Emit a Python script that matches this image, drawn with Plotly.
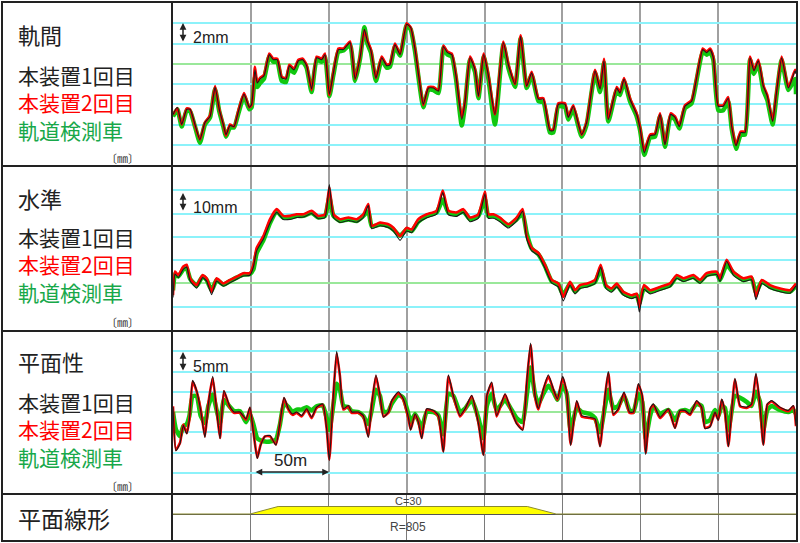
import plotly.graph_objects as go

# ---------------- data (distance in m, values in mm) ----------------
GAUGE_X = [0,2.8,5.6,8.8,11,14.1,17.3,20.5,23.8,27,29.7,32.3,34,36.6,39.2,42,45.6,49,50.5,52.6,
           54.1,55.9,58.4,61.8,64.4,67,69.8,72.6,74.7,77.7,80.5,83.3,85.8,89,92.2,95.5,97.6,100.4,103,106.2,
           109.4,113.7,116.9,120.1,122.9,124.8,127.1,130.3,134,137.2,139.3,142.5,145.8,150,152.6,155.4,158.2,160.7,164,167.2,
           170.4,173.6,176.2,179,181.7,185.4,187.5,190.7,193.9,196.1,199.5,202.4,206.7,212.1,215.3,219.6,223.2,227.1,230.3,234.6,
           237.8,242,244.2,247.4,251.7,253.8,257,262.4,265.6,271,274.2,276.7,279.5,284.9,287,289.6,293.4,297.7,299.8,302.6,
           306.3,309.5,312.7,315.9,319.5,322.3,325.1,328.7,333,336.2,340.1,342.6,344.8,346.9,350.1,353.3,356.5,358.7,361.5,364.5,
           367.3,370.5,373,375.8,379,381.6,385,387.6,390.8,395.1,399.4,400]
GAUGE_RUN1 = [-5.0,-4.3,-6.0,-4.5,-4.5,-6.0,-7.5,-5.8,-5.2,-2.3,-4.5,-6.0,-7.0,-6.1,-6.2,-4.7,-3.0,-4.3,-4.0,-0.6,
              -1.9,-1.5,-1.2,0.9,0.4,0.4,-1.4,-1.5,-0.2,-0.6,0.3,0.4,-0.2,-2.5,0.6,0.4,0.9,-3.0,-0.9,1.4,
              1.4,2.1,-1.5,0.6,3.4,2.2,1.3,-1.4,0.6,-0.2,-0.1,1.9,0.9,3.9,3.6,1.4,-1.7,-4.0,-2.4,-2.4,
              -2.7,1.7,1.1,0.9,-1.2,-5.5,-3.8,0.6,-0.6,-3.2,0.9,-1.1,-5.0,2.1,-0.1,-2.0,2.7,-2.2,-0.9,-3.5,
              -3.5,-6.6,-6.6,-4.0,-4.0,-5.3,-4.2,-7.0,-5.8,-0.7,-2.5,0.3,-5.5,-2.4,-2.9,-1.5,-3.5,-5.0,-6.3,-8.8,
              -7.1,-7.0,-5.0,-8.0,-5.0,-5.3,-6.2,-4.2,-3.7,-1.4,1.4,1.1,1.4,0.6,-4.2,-4.2,-3.4,-6.2,-8.1,-6.8,
              -6.8,0.6,-0.7,0.3,-2.2,-3.2,-5.7,-2.7,0.6,-2.4,-0.7,-1.0]
GAUGE_RUN2 = [-5.0,-4.4,-6.0,-4.4,-4.5,-6.1,-7.5,-5.8,-5.1,-2.2,-4.5,-6.0,-7.1,-6.0,-6.2,-4.6,-2.9,-4.3,-4.1,-0.3,
              -1.8,-1.4,-1.1,1.0,0.5,0.5,-1.3,-1.4,-0.1,-0.5,0.4,0.5,-0.1,-2.6,0.7,0.5,1.0,-3.1,-0.8,1.5,
              1.5,2.2,-1.5,0.7,3.3,2.3,1.4,-1.4,0.7,-0.1,0.0,2.0,1.0,4.0,3.6,1.5,-1.6,-4.1,-2.3,-2.3,
              -2.6,1.8,1.2,1.0,-1.1,-5.3,-3.7,0.7,-0.5,-3.2,1.0,-1.0,-5.0,2.2,0.0,-2.0,2.8,-2.2,-0.8,-3.4,
              -3.4,-6.5,-6.5,-3.9,-3.9,-5.2,-4.1,-7.0,-5.7,-0.6,-2.4,0.5,-5.4,-2.3,-2.8,-1.4,-3.4,-4.9,-6.2,-8.6,
              -7.0,-6.9,-4.9,-7.9,-4.9,-5.2,-6.1,-4.1,-3.6,-1.3,1.5,1.2,1.5,0.7,-4.1,-4.1,-3.3,-6.1,-8.0,-6.7,
              -6.7,0.7,-0.6,0.4,-2.1,-3.1,-5.6,-2.6,0.7,-2.3,-0.6,-0.9]
GAUGE_CAR = [-5.2,-4.5,-6.2,-4.6,-4.7,-6.2,-7.8,-6.0,-5.3,-2.5,-4.7,-6.2,-7.2,-6.3,-6.3,-4.9,-3.2,-4.5,-4.3,-1.3,
             -2.3,-1.9,-1.5,0.7,0.2,0.2,-1.7,-1.8,-0.5,-0.9,0.1,0.2,-0.4,-2.8,0.4,0.2,0.7,-3.2,-1.1,1.2,
             1.3,1.9,-1.7,0.5,3.6,2.0,1.1,-1.7,0.4,-0.4,-0.3,1.7,0.8,3.8,3.4,1.2,-2.0,-4.3,-2.6,-2.6,
             -2.9,1.6,0.9,0.7,-1.5,-6.1,-4.1,0.4,-0.8,-3.4,0.7,-1.4,-6.0,1.9,-0.4,-2.3,2.5,-2.4,-1.1,-3.7,
             -3.8,-6.8,-6.8,-4.2,-4.3,-5.5,-4.5,-7.2,-6.0,-0.9,-2.8,0.1,-5.7,-2.6,-3.1,-1.7,-3.7,-5.2,-6.5,-9.0,
             -7.3,-7.2,-5.2,-8.2,-5.2,-5.5,-6.4,-4.4,-3.9,-1.6,1.2,0.9,1.2,0.4,-4.6,-4.6,-3.7,-6.4,-8.4,-7.0,
             -7.0,0.4,-1.0,0.0,-2.6,-3.6,-6.0,-3.0,0.4,-2.6,-1.5,-3.0]

LEVEL_X = [0,1.3,3.4,6.6,8.8,11,15.2,19,21.6,24.8,28,32.3,36.6,40.9,45.2,49.4,51.6,53.7,58,62.3,
           66.6,70.8,75.1,79.4,83.7,89,93.3,97.6,100.4,103,107.2,112.6,118,122.2,125.4,127.6,132.9,138.3,141.5,145.8,
           150,153.2,157.5,162.9,169.3,173.2,176.8,182.1,186.4,190.7,196.1,200.3,202.4,205.7,209.9,215.3,220.6,224.5,227.1,230.3,
           234.6,238.8,243.1,247.4,250.6,254.9,258.1,261.3,266,271,274.6,278,281.6,284.9,289.1,294.5,297.7,299.4,302.4,306.3,
           312.7,319.1,323.4,327.7,334.1,338.4,342.6,349.1,351.2,355.5,359.8,366.2,371.5,374.3,378,383.3,389.8,396.2,400]
LEVEL_RUN1 = [-6.0,4.0,2.5,6.0,7.0,1.0,-2.0,2.5,1.0,-4.8,1.0,-1.2,0.3,1.8,3.2,3.5,7.0,14.0,19.0,26.0,
              30.5,27.5,27.5,28.3,28.5,30.0,27.8,28.3,42.5,28.3,26.2,27.0,26.3,28.3,33.5,23.5,24.8,24.0,22.5,18.5,
              22.5,21.8,26.0,28.2,29.8,39.0,29.5,28.8,30.5,26.5,28.0,38.5,28.0,28.0,26.5,23.8,26.8,31.0,19.0,14.0,
              12.0,6.5,0.2,-1.5,-7.5,-0.8,-4.5,-2.2,-1.5,0.0,7.0,-2.2,-3.8,-1.5,-5.0,-6.5,-5.8,-12.3,-2.5,-4.5,
              -3.0,-1.5,2.2,0.8,2.2,0.0,3.0,3.8,0.8,9.5,3.5,0.8,1.5,-7.0,0.0,-2.2,-3.6,-4.2,-1.0]
LEVEL_RUN2 = [-5.1,5.1,3.6,7.3,8.0,2.2,-0.7,3.6,2.2,-3.6,2.2,0,1.5,2.9,4.4,4.4,8.0,15.2,20.3,27.6,
              31.9,29.0,29.0,29.7,29.7,31.2,29.0,29.7,41.3,29.7,27.6,28.3,27.6,29.7,34.1,24.7,26.1,25.4,23.9,20.3,
              23.9,23.2,27.6,29.7,31.2,39.9,31.2,30.5,31.9,28.3,29.7,39.5,29.7,29.7,28.3,25.4,28.3,31.9,20.3,15.2,
              13.1,8.0,1.5,0,-5.8,0.7,-2.9,-0.7,0,1.5,8.0,-0.7,-2.2,0,-3.6,-5.1,-4.4,-10.2,-0.7,-2.9,
              -1.5,0,3.6,2.2,3.6,1.5,4.4,5.1,2.2,10.2,5.1,2.2,2.9,-5.8,1.5,-0.7,-2.2,-2.9,0]
LEVEL_CAR = [-3.0,4.0,3.0,6.0,6.5,2.0,-1.0,3.0,1.5,-3.0,1.5,-0.5,1.0,2.5,3.8,4.0,6.0,13.0,18.5,26.0,
             30.8,28.3,28.3,29.0,29.0,30.3,28.3,29.0,37.0,29.0,26.8,27.5,26.8,29.0,31.0,24.5,25.3,24.6,23.2,20.5,
             23.2,22.5,26.5,29.0,30.5,36.0,30.5,29.7,31.0,27.5,29.0,36.0,29.0,29.0,27.5,25.0,27.5,30.0,21.5,15.0,
             12.5,7.5,1.0,-0.5,-5.0,0.0,-3.5,-1.5,-0.8,0.7,6.0,-1.3,-2.8,-0.8,-4.2,-5.8,-5.0,-8.5,-2.0,-3.5,
             -2.2,-0.8,2.8,1.5,2.8,0.8,3.6,4.3,1.5,8.0,4.5,1.5,2.2,-4.0,0.8,-1.5,-2.9,-3.5,-1.0]

TWIST_X = [0,1.9,4.5,6.6,8.8,10.5,12.6,15.2,17.8,20.5,22.7,25.5,28,30.2,32.7,36.2,39.2,43,46.9,49.4,
           51.6,54.1,56.3,59.1,62.3,66.1,68.7,71.3,74.1,76.8,79.4,82.6,85.8,89,92.2,96.1,98.7,100.4,103,105.1,
           107.2,109.4,112.6,114.7,119,122.2,125.4,127.6,130.3,132.9,135.1,138.3,140.4,144.7,147.9,151.1,152.6,155.4,157.5,159.7,
           162.9,167.2,170.4,173.6,176.8,180,184.3,187.5,191.8,196.1,199.3,201.5,204.6,207.8,213.2,216.4,220.6,224.5,227.1,229.6,
           232.4,234.6,237.8,241,244.2,246.8,250.2,252.8,255.3,259.2,262.4,267.7,271,274.2,277.4,279.5,282.7,285.9,289.6,293,
           295.6,298.8,301.3,303.5,306.3,308.4,312.7,318,322.3,325.5,328.7,332,336.2,339.4,341.6,344.8,348,350.1,352.3,354.4,
           356.6,360.8,364.1,368.3,371.5,374.3,376.9,379,381.6,384.4,389.7,395.1,398.3,400]
TWIST_RUN1 = [1.2,-9.6,-7.8,-3.3,-5.4,-2.0,7.8,5.3,0.4,-6.3,2.0,8.8,0.4,-6.6,5.3,1.6,0.0,0.0,-1.7,1.2,
              -5.0,-11.5,-8.2,-6.0,-5.8,-8.2,-2.5,3.6,0.8,-0.5,0.0,-0.9,0.8,-1.3,1.2,2.0,-4.5,-12.0,4.5,15.0,
              9.0,0.8,1.6,0.0,0.0,-0.9,-6.3,2.0,9.2,4.1,-1.3,0.0,2.8,5.0,3.2,-1.3,-4.5,-0.5,-2.5,-6.6,
              0.8,0.4,-0.9,-10.0,9.2,4.1,-0.9,0.8,4.1,-2.9,-10.8,4.1,7.4,-0.9,4.5,1.2,-2.9,-4.5,7.4,17.0,
              4.1,0.8,5.7,9.2,5.7,3.2,8.8,4.9,-8.3,2.8,-0.9,-1.3,-1.7,-8.6,4.1,10.0,-0.5,0.8,4.9,0.0,
              0.0,7.0,4.1,-10.5,0.8,2.0,-1.3,0.8,-4.1,0.4,0.4,-0.5,2.8,1.2,-4.1,-3.7,0.0,-2.1,3.2,0.0,
              -8.6,8.3,1.6,1.2,2.0,9.6,1.6,-8.3,2.0,2.8,1.2,0.4,1.6,-3.3]
TWIST_RUN2 = [1.4,-9.3,-7.6,-3.1,-5.2,-1.9,7.5,5.1,0.6,-6.0,2.2,8.4,0.6,-6.4,5.1,1.4,-0.2,-0.2,-1.9,1.0,
              -4.8,-11.3,-8.0,-6.0,-6.0,-8.0,-2.7,3.4,0.6,-0.7,-0.2,-1.1,0.6,-1.5,1.0,1.8,-4.3,-11.7,4.3,14.5,
              8.8,0.6,1.4,-0.2,-0.2,-1.1,-6.0,1.8,8.8,3.9,-1.1,-0.2,2.6,4.7,3.0,-1.5,-4.3,-0.7,-2.3,-6.4,
              0.6,0.2,-1.1,-9.7,8.8,3.9,-1.1,0.6,3.9,-2.7,-10.5,3.9,7.1,-1.1,4.3,1.0,-2.7,-4.3,7.1,16.6,
              3.9,0.6,5.5,8.8,5.5,3.0,8.4,4.7,-8.0,2.6,-1.1,-1.5,-1.9,-8.4,3.9,9.6,-0.7,0.6,4.7,-0.2,
              -0.2,6.7,3.9,-10.1,0.6,1.8,-1.5,0.6,-3.9,0.2,0.2,-0.7,2.6,1.0,-3.9,-3.5,-0.2,-1.9,3.0,-0.2,
              -8.4,8.0,1.4,1.0,1.8,9.2,1.4,-8.0,1.8,2.6,1.0,0.2,1.4,-3.5]
TWIST_CAR = [0.0,-4.3,-6.0,-3.5,-3.0,-1.0,3.9,3.9,-1.0,-2.7,1.5,4.3,0.5,-2.7,3.0,1.4,0.2,0.2,-2.5,-0.5,
             -3.0,-6.5,-7.0,-7.3,-7.3,-6.8,-3.0,2.2,1.2,0.0,0.6,0.6,1.2,0.4,1.4,1.6,-1.5,-4.5,1.8,7.0,
             5.5,1.5,1.2,0.2,0.0,-1.0,-3.0,0.5,5.5,4.0,0.0,0.2,2.0,4.2,3.5,-0.5,-2.5,-0.5,-2.0,-4.0,
             0.0,0.0,-0.8,-5.5,4.5,4.0,0.0,0.8,3.0,-1.5,-6.5,1.5,4.5,0.5,3.0,1.2,-1.5,-2.5,4.0,11.0,
             4.5,2.0,4.5,6.5,5.0,3.0,6.5,4.5,-4.5,1.0,0.0,-0.5,-1.5,-5.0,1.5,5.5,1.0,1.5,4.0,0.5,
             0.0,4.5,2.5,-6.5,-1.0,1.5,-0.5,0.5,-2.0,0.2,0.5,0.0,2.0,1.5,-2.5,-2.0,0.5,-1.0,1.5,1.0,
             -4.5,4.0,3.5,2.5,1.5,5.0,2.5,-4.5,0.5,1.5,0.5,0.0,0.5,-0.5]

CURVE_X = [0, 49.5, 67.5, 227.5, 246, 400]
CURVE_Y = [0, 0, 30, 30, 0, 0]

PANEL_TITLES = ["軌間", "水準", "平面性"]
SERIES_NAMES = ["本装置1回目", "本装置2回目", "軌道検測車"]
SCALE_LABELS = ["2mm", "10mm", "5mm"]
Y_RANGES = [[-10, 6], [-20, 50], [-20, 20]]
Y_DTICKS = [2, 10, 5]

# ---------------- styling ----------------
W, H = 800, 543
def PX(p): return p / W
def PY(p): return (H - p) / H

BLACK, RED, GREEN = "#1a1a1a", "#ff0000", "#10c810"
TXT_GREEN = "#18a84a"
CYAN = "#8cf2fa"
ZGREEN = "#9ae89a"
VGRID = "#a0a0a0"
FONT_JP = "Noto Sans CJK JP"

XDOM = [PX(173), PX(796)]
YDOMS = [[PY(165), PY(3)], [PY(330), PY(167)], [PY(493), PY(331)], [PY(540), PY(495)]]

fig = go.Figure()
panels = [(GAUGE_X, GAUGE_RUN1, GAUGE_RUN2, GAUGE_CAR),
          (LEVEL_X, LEVEL_RUN1, LEVEL_RUN2, LEVEL_CAR),
          (TWIST_X, TWIST_RUN1, TWIST_RUN2, TWIST_CAR)]
for i, (xs, r1, r2, car) in enumerate(panels):
    xa, ya = ("x", "y") if i == 0 else (f"x{i+1}", f"y{i+1}")
    fig.add_trace(go.Scatter(x=xs, y=car, mode="lines",
                             line=dict(color=GREEN, width=4.5, shape="spline", smoothing=0.5),
                             xaxis=xa, yaxis=ya, name=SERIES_NAMES[2], showlegend=False))
    fig.add_trace(go.Scatter(x=xs, y=r2, mode="lines",
                             line=dict(color=RED, width=2.6, shape="spline", smoothing=0.5),
                             xaxis=xa, yaxis=ya, name=SERIES_NAMES[1], showlegend=False))
    fig.add_trace(go.Scatter(x=xs, y=r1, mode="lines",
                             line=dict(color=BLACK, width=1.1, shape="spline", smoothing=0.5),
                             xaxis=xa, yaxis=ya, name=SERIES_NAMES[0], showlegend=False))

fig.add_trace(go.Scatter(x=CURVE_X, y=CURVE_Y, mode="lines", fill="tozeroy",
                         fillcolor="#ffff00", line=dict(color="#8a8a30", width=1),
                         xaxis="x4", yaxis="y4", showlegend=False))

layout = dict(width=W, height=H, margin=dict(l=0, r=0, t=0, b=0),
              paper_bgcolor="white", plot_bgcolor="white", showlegend=False)
for i in range(4):
    sx = "" if i == 0 else str(i + 1)
    xa = dict(domain=XDOM, range=[0, 400], tick0=0, dtick=50, showgrid=True,
              gridcolor=VGRID if i < 3 else "#7a7a7a", gridwidth=2 if i < 3 else 1,
              showticklabels=False, ticks="", zeroline=False, showline=False,
              anchor="y" + sx, fixedrange=True)
    if i < 3:
        ya = dict(domain=YDOMS[i], range=Y_RANGES[i], tick0=0, dtick=Y_DTICKS[i],
                  showgrid=True, gridcolor=CYAN, gridwidth=2, zeroline=True,
                  zerolinecolor=ZGREEN, zerolinewidth=2, showticklabels=False, ticks="",
                  showline=False, anchor="x" + sx)
    else:
        ya = dict(domain=YDOMS[i], range=[-104, 76], showgrid=False, zeroline=True,
                  zerolinecolor="#555555", zerolinewidth=1, showticklabels=False, ticks="",
                  showline=False, anchor="x" + sx)
    layout["xaxis" + sx] = xa
    layout["yaxis" + sx] = ya
fig.update_layout(**layout)

# borders
BC = "#222222"
shapes = [
    dict(type="rect", xref="paper", yref="paper", x0=PX(2), x1=PX(797), y0=PY(541), y1=PY(2),
         line=dict(color=BC, width=2)),
    dict(type="line", xref="paper", yref="paper", x0=PX(172), x1=PX(172), y0=PY(541), y1=PY(2),
         line=dict(color=BC, width=2)),
]
for yy in [166, 331, 494]:
    shapes.append(dict(type="line", xref="paper", yref="paper", x0=PX(2), x1=PX(797),
                       y0=PY(yy), y1=PY(yy), line=dict(color=BC, width=2)))
fig.update_layout(shapes=shapes)

ann = []
title_y = [34, 198, 361]
legend_mid_y = [103, 264, 429]
mm_y = [158, 322, 486]
legend_text = (f"<span style='color:#222222'>{SERIES_NAMES[0]}</span><br>"
               f"<span style='color:{RED}'>{SERIES_NAMES[1]}</span><br>"
               f"<span style='color:{TXT_GREEN}'>{SERIES_NAMES[2]}</span>")
for i in range(3):
    ann.append(dict(text=PANEL_TITLES[i], x=PX(16), y=PY(title_y[i]), xref="paper", yref="paper",
                    xanchor="left", yanchor="middle", showarrow=False,
                    font=dict(family=FONT_JP, size=22, color="#222222")))
    ann.append(dict(text=legend_text, x=PX(16), y=PY(legend_mid_y[i]), xref="paper", yref="paper",
                    xanchor="left", yanchor="middle", align="left", showarrow=False,
                    font=dict(family=FONT_JP, size=21, color="#222222")))
    ann.append(dict(text="〔㎜〕", x=PX(122), y=PY(mm_y[i]), xref="paper", yref="paper",
                    xanchor="center", yanchor="middle", showarrow=False,
                    font=dict(family=FONT_JP, size=11, color="#333333")))

ann.append(dict(text="平面線形", x=PX(16), y=PY(518), xref="paper", yref="paper",
                xanchor="left", yanchor="middle", showarrow=False,
                font=dict(family=FONT_JP, size=23, color="#222222")))

# scale markers
arrow_tops = [(23, 43), (193, 212), (352, 372)]
scale_text_y = [37, 207, 366]
for i in range(3):
    t, b = arrow_tops[i]
    ann.append(dict(text="", x=PX(183), y=PY(t), xref="paper", yref="paper",
                    ax=0, ay=b - t, showarrow=True, arrowside="end+start", arrowhead=2,
                    arrowsize=0.9, arrowwidth=1.5, arrowcolor="#222222"))
    ann.append(dict(text=SCALE_LABELS[i], x=PX(191), y=PY(scale_text_y[i]), xref="paper", yref="paper",
                    xanchor="left", yanchor="middle", showarrow=False,
                    font=dict(family="Liberation Sans", size=16, color="#222222")))

# 50m marker
ann.append(dict(text="", x=PX(329), y=PY(472), xref="paper", yref="paper",
                ax=-75, ay=0, showarrow=True, arrowside="end+start", arrowhead=2,
                arrowsize=0.9, arrowwidth=1.5, arrowcolor="#222222"))
ann.append(dict(text="50m", x=PX(290), y=PY(461), xref="paper", yref="paper",
                xanchor="center", yanchor="middle", showarrow=False,
                font=dict(family="Liberation Sans", size=17, color="#222222")))

# curve labels
ann.append(dict(text="C=30", x=151, y=52, xref="x4", yref="y4", xanchor="center", yanchor="middle",
                showarrow=False, font=dict(family="Liberation Sans", size=11, color="#444444")))
ann.append(dict(text="R=805", x=151, y=-52, xref="x4", yref="y4", xanchor="center", yanchor="middle",
                showarrow=False, font=dict(family="Liberation Sans", size=12, color="#444444")))

fig.update_layout(annotations=ann)
fig.write_html("out.html", config={"displayModeBar": False},
               post_script="document.body.style.margin='0';document.body.style.overflow='hidden';")
